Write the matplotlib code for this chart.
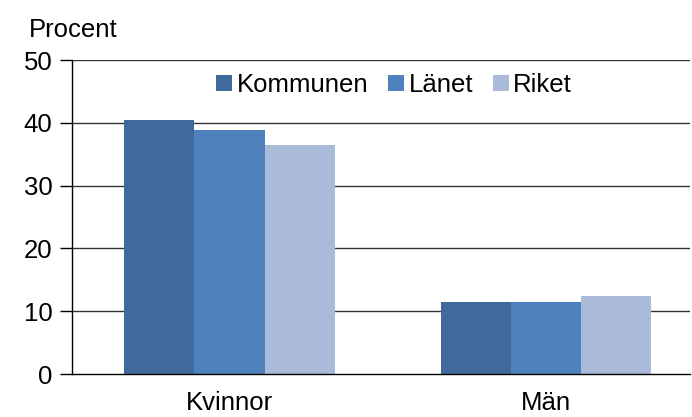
import matplotlib
matplotlib.use("Agg")
import matplotlib.pyplot as plt
import numpy as np
from matplotlib.patches import Patch

categories = ["Kvinnor", "Män"]
series_names = ["Kommunen", "Länet", "Riket"]
kommunen = [40.5, 11.4]
lanet = [38.8, 11.4]
riket = [36.5, 12.4]
yticks = [0, 10, 20, 30, 40, 50]

colors = ["#416A9C", "#4F81BD", "#AABBD9"]

plt.rcParams['font.family'] = ['Liberation Sans', 'DejaVu Sans']
FS = 18.5

fig = plt.figure(figsize=(6.92, 4.17), dpi=100)
ax = fig.add_axes([72/692, 1-374/417, (690-72)/692, (374-60)/417])

x = np.arange(len(categories))
w = 0.222
for i, (vals, c) in enumerate(zip([kommunen, lanet, riket], colors)):
    ax.bar(x + (i-1)*w, vals, width=w, color=c, zorder=3, linewidth=0)

ax.set_ylim(0, 50)
ax.set_xlim(-0.498, 1.455)
ax.set_yticks(yticks)
ax.set_yticklabels([str(t) for t in yticks], fontsize=FS)
ax.set_xticks(x)
ax.set_xticklabels(categories, fontsize=FS)
ax.tick_params(axis='x', length=0, pad=12.5)
ax.tick_params(axis='y', length=9, width=1, direction='out', pad=5, color='black')

for t in yticks[1:]:
    ax.axhline(t, color='#333333', linewidth=1, zorder=1)
for s in ['top', 'right']:
    ax.spines[s].set_visible(False)
ax.spines['left'].set_color('black')
ax.spines['bottom'].set_color('black')
ax.spines['left'].set_linewidth(1)
ax.spines['bottom'].set_linewidth(1)
ax.spines['bottom'].set_zorder(4)

handles = [Patch(facecolor=c, edgecolor='none', label=n) for c, n in zip(colors, series_names)]
leg = fig.legend(handles=handles, loc='center', bbox_to_anchor=(394/692, 1-85/417),
                 ncol=3, frameon=False, fontsize=FS, handlelength=0.62, handleheight=0.62,
                 handletextpad=0.18, columnspacing=0.77, borderpad=0, borderaxespad=0)

fig.text(29/692, 1-30/417, "Procent", fontsize=FS, ha='left', va='center')

fig.savefig("out.png", dpi=100)
